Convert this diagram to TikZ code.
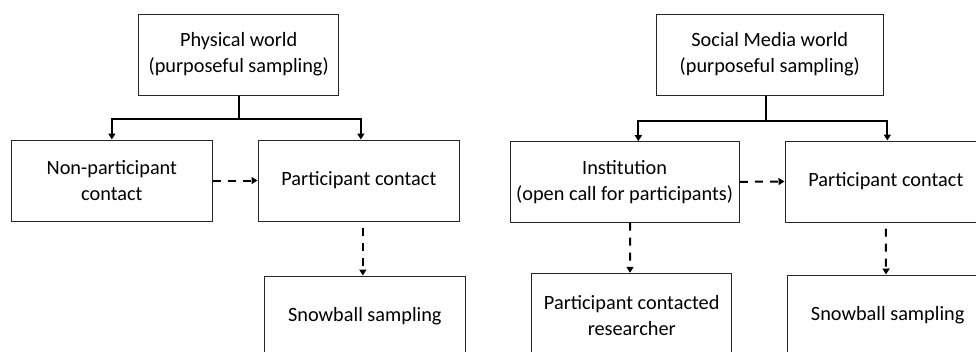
\documentclass[tikz,border=0pt]{standalone}
\usepackage{fontspec}
\setmainfont{Carlito}
\usetikzlibrary{arrows.meta,calc}
\begin{document}
\begin{tikzpicture}[x=1pt,y=-1pt,
  box/.style={draw=black!85,line width=1pt,rectangle,minimum height=81pt,
    align=center,font=\fontsize{20.3}{26}\selectfont,inner sep=0pt},
  link/.style={line width=2pt,-{Triangle[width=7pt,length=6pt]}},
  dlink/.style={link,dash pattern=on 8pt off 7pt}]
\useasboundingbox (0,0) rectangle (976,351);
\clip (0,0) rectangle (976,351);
\fill[white] (0,0) rectangle (976,351);

% physical world branch
\node[box,minimum width=200pt] (pw) at (238.7,54.5) {Physical world\\(purposeful sampling)};
\node[box,minimum width=201.7pt] (np) at (111.85,180.5) {Non-participant\\contact};
\node[box,minimum width=201.7pt] (pc1) at (358.85,180.5) {Participant contact};
\node[box,minimum width=200.3pt] (sb1) at (364.85,316.5) {Snowball sampling};

\draw[link] (pw.south) -- ++(0,23.5) -| (np.north);
\draw[link] (pw.south) -- ++(0,23.5) -| ([xshift=2pt]pc1.north);
\draw[dlink] (np.east) -- (pc1.west);
\draw[dlink,dash phase=-6pt] ([xshift=4pt]pc1.south) -- ([xshift=-2pt]sb1.north);

% social media world branch
\node[box,minimum width=227pt] (smw) at (769.8,54.5) {Social Media world\\(purposeful sampling)};
\node[box,minimum width=229.3pt,minimum height=80.3pt] (inst) at (624.65,181.85) {Institution\\(open call for participants)};
\node[box,minimum width=201.7pt] (pc2) at (885.85,181.5) {Participant contact};
\node[box,minimum width=200pt,minimum height=85pt] (pcr) at (631.7,315.8) {Participant contacted\\researcher};
\node[box,minimum width=200pt] (sb2) at (887.7,315.5) {Snowball sampling};

\draw[link] ([xshift=-4pt]smw.south) -- ++(0,25) -| ([xshift=13.7pt]inst.north);
\draw[link] ([xshift=-4pt]smw.south) -- ++(0,25) -| ([xshift=1.5pt]pc2.north);
\draw[dlink] (inst.east) -- (pc2.west);
\draw[dlink] ([xshift=5.4pt]inst.south) -- ([xshift=-1.7pt]pcr.north);
\draw[dlink,dash phase=-6pt] (pc2.south) -- ([xshift=-1.7pt]sb2.north);
\end{tikzpicture}
\end{document}
